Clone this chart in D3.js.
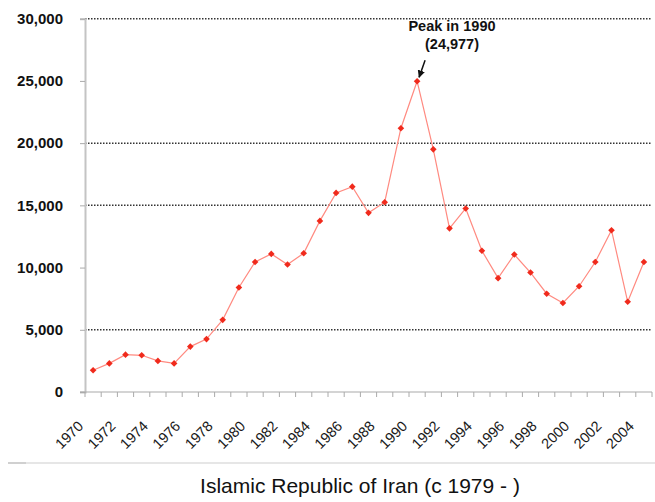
<!DOCTYPE html>
<html>
<head>
<meta charset="utf-8">
<script src="https://cdn.jsdelivr.net/npm/d3@7"></script>
<style>
  body { margin: 0; background: #fff; }
  svg { display: block; font-family: "Liberation Sans", Arial, sans-serif; }
</style>
</head>
<body>
<div id="chart"></div>
<script>
'use strict';

// data
var years = d3.range(1970, 2005);
var values = [1750, 2300, 3000, 2950, 2500, 2300, 3650, 4250, 5800, 8400,
  10450, 11100, 10250, 11150, 13750, 16000, 16500, 14400, 15250, 21200,
  24977, 19500, 13150, 14750, 11350, 9150, 11050, 9600, 7900, 7150,
  8500, 10450, 13000, 7250, 10450];
var yTicks = [0, 5000, 10000, 15000, 20000, 25000, 30000];
var gridTicks = [5000, 15000, 20000, 30000];
var xLabels = d3.range(1970, 2005, 2);
var peakYear = 1990;
var peakText = ["Peak in 1990", "(24,977)"];
var caption = "Islamic Republic of Iran (c 1979 - )";

var width = 655, height = 502;
var plotLeft = 85, plotRight = 652, plotTop = 18.7, plotBottom = 392;

var svg = d3.select("#chart").append("svg")
  .attr("width", width).attr("height", height);

var x = d3.scaleBand().domain(years).range([plotLeft, plotRight]).padding(0);
var y = d3.scaleLinear().domain([0, 30000]).range([plotBottom, plotTop]);

// dotted gridlines
svg.append("g").selectAll("line").data(gridTicks).enter().append("line")
  .attr("x1", plotLeft).attr("x2", plotRight)
  .attr("y1", function (d) { return y(d); }).attr("y2", function (d) { return y(d); })
  .style("stroke", "#333").style("stroke-width", 1.5).style("stroke-dasharray", "1.5,1.5");

// y axis
var yAxis = svg.append("g").attr("transform", "translate(" + plotLeft + ",0)")
  .call(d3.axisLeft(y).tickValues(yTicks).tickSize(5).tickPadding(17).tickFormat(d3.format(",")));
yAxis.select(".domain").style("stroke", "#c4c4c4").style("stroke-width", 2);
yAxis.selectAll(".tick line").style("stroke", "#aaa");
yAxis.selectAll(".tick text").style("font-size", "15px").style("font-weight", "bold")
  .style("fill", "#111").style("font-family", "Liberation Sans, Arial, sans-serif");

// x axis line and band ticks
svg.append("line").attr("x1", plotLeft - 5).attr("x2", plotRight)
  .attr("y1", plotBottom).attr("y2", plotBottom)
  .style("stroke", "#aaa").style("stroke-width", 1.2);
var edges = years.map(function (d) { return x(d); }).concat([plotRight]);
svg.append("g").selectAll("line").data(edges).enter().append("line")
  .attr("x1", function (d) { return d; }).attr("x2", function (d) { return d; })
  .attr("y1", plotBottom).attr("y2", plotBottom + 5)
  .style("stroke", "#aaa").style("stroke-width", 1);

svg.append("g").selectAll("text").data(xLabels).enter().append("text")
  .attr("transform", function (d) {
    return "translate(" + (x(d) + x.bandwidth() / 2 - 9) + "," + 427 + ") rotate(-45)";
  })
  .attr("text-anchor", "end")
  .style("font-size", "14.5px").style("fill", "#1a1a1a")
  .text(function (d) { return d; });

// series
var pts = years.map(function (d, i) { return [x(d) + x.bandwidth() / 2, y(values[i])]; });
svg.append("path").attr("d", d3.line()(pts))
  .style("fill", "none").style("stroke", "#ff8a80").style("stroke-width", 1.2);
svg.append("g").selectAll("path").data(pts).enter().append("path")
  .attr("transform", function (d) { return "translate(" + d[0] + "," + d[1] + ") rotate(45)"; })
  .attr("d", d3.symbol().type(d3.symbolSquare).size(22)())
  .style("fill", "#f02a1c");

// peak annotation
svg.append("defs").append("marker").attr("id", "arr")
  .attr("viewBox", "0 0 10 10").attr("refX", 9).attr("refY", 5)
  .attr("markerWidth", 5).attr("markerHeight", 5).attr("orient", "auto")
  .append("path").attr("d", "M0,0L10,5L0,10z").style("fill", "#111");
var px = x(peakYear) + x.bandwidth() / 2;
var py = y(values[years.indexOf(peakYear)]);
svg.append("line").attr("x1", px + 8).attr("y1", py - 21).attr("x2", px + 2).attr("y2", py - 4)
  .style("stroke", "#111").style("stroke-width", 1.5).attr("marker-end", "url(#arr)");
svg.append("g").selectAll("text").data(peakText).enter().append("text")
  .attr("x", 452).attr("y", function (d, i) { return 31 + i * 18; })
  .attr("text-anchor", "middle")
  .style("font-size", "14.5px").style("font-weight", "bold").style("fill", "#111")
  .text(function (d) { return d; });

// separator and caption
svg.append("line").attr("x1", 8).attr("x2", 655).attr("y1", 463).attr("y2", 463)
  .style("stroke", "#e6e6e6").style("stroke-width", 2);
svg.append("line").attr("x1", 8).attr("x2", 26).attr("y1", 463).attr("y2", 463)
  .style("stroke", "#d0d0d0").style("stroke-width", 2);
svg.append("text").attr("x", 360).attr("y", 493).attr("text-anchor", "middle")
  .style("font-size", "21px").style("fill", "#111")
  .text(caption);
</script>
</body>
</html>
